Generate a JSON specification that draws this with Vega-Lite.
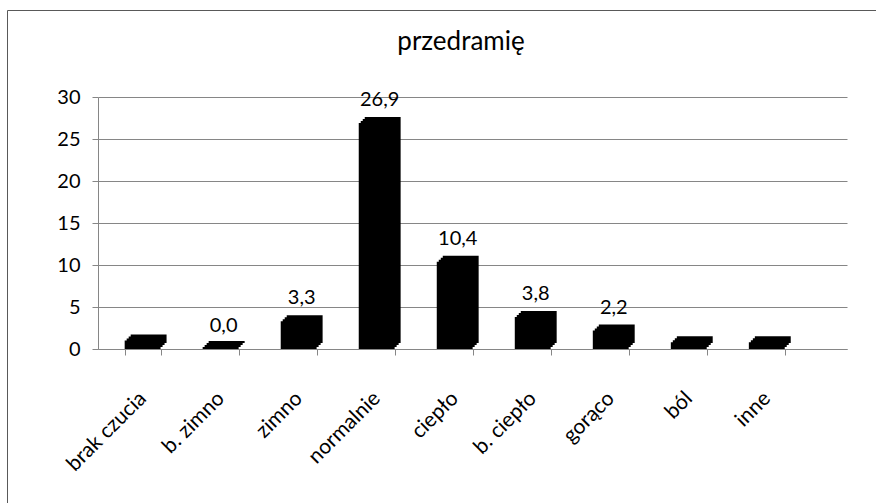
{
  "$schema": "https://vega.github.io/schema/vega-lite/v6.json",
  "autosize": "none",
  "padding": {"left": 7, "top": 10, "right": 0, "bottom": 0},
  "width": 872,
  "height": 495,
  "background": "white",
  "config": {
    "locale": {"number": {"decimal": ",", "thousands": " ", "grouping": [3], "currency": ["", " zł"]}},
    "view": {"stroke": "#595959", "strokeWidth": 1},
    "font": "Lato"
  },
  "title": {
    "text": "przedramię",
    "anchor": "middle",
    "frame": "group",
    "offset": -66,
    "baseline": "alphabetic",
    "dx": 18,
    "fontSize": 26,
    "font": "Lato",
    "fontWeight": "normal",
    "color": "black"
  },
  "data": {
    "values": [
      {"odczucie": "brak czucia", "procent": 1.0},
      {"odczucie": "b. zimno", "procent": 0.0},
      {"odczucie": "zimno", "procent": 3.3},
      {"odczucie": "normalnie", "procent": 26.9},
      {"odczucie": "ciepło", "procent": 10.4},
      {"odczucie": "b. ciepło", "procent": 3.8},
      {"odczucie": "gorąco", "procent": 2.2},
      {"odczucie": "ból", "procent": 0.8},
      {"odczucie": "inne", "procent": 0.8}
    ]
  },
  "encoding": {
    "x": {
      "field": "odczucie",
      "type": "nominal",
      "sort": null,
      "scale": {"range": [91, 840], "paddingInner": 0.54, "paddingOuter": 0.57, "align": 0.3},
      "axis": {
        "title": null,
        "orient": "bottom",
        "offset": -156,
        "domainColor": "#868686",
        "tickColor": "#868686",
        "tickSize": 6,
        "tickBand": "extent",
        "labelAngle": -45,
        "labelAlign": "right",
        "labelBaseline": "middle",
        "labelPadding": 40,
        "labelFontSize": 21,
        "labelFont": "Lato",
        "labelColor": "black",
        "labelOverlap": false,
        "grid": false
      }
    },
    "y": {
      "field": "procent",
      "type": "quantitative",
      "scale": {"domain": [0, 30], "range": [339, 87], "nice": false},
      "axis": {
        "title": null,
        "orient": "left",
        "offset": -91,
        "values": [0, 5, 10, 15, 20, 25, 30],
        "domainColor": "#868686",
        "tickColor": "#868686",
        "tickSize": 6,
        "labelPadding": 12,
        "labelFontSize": 20,
        "labelFont": "Lato",
        "labelColor": "black",
        "grid": true,
        "gridColor": "#868686",
        "gridWidth": 1
      }
    }
  },
  "layer": [
    {"mark": {"type": "bar", "color": "black", "xOffset": 6, "yOffset": -6}},
    {"mark": {"type": "bar", "color": "black", "xOffset": 4, "yOffset": -4}},
    {"mark": {"type": "bar", "color": "black", "xOffset": 2, "yOffset": -2}},
    {"mark": {"type": "bar", "color": "black"}},
    {
      "transform": [{"filter": "datum.procent == 0"}],
      "layer": [
        {"mark": {"type": "tick", "color": "black", "opacity": 1, "size": 36, "thickness": 2, "xOffset": 0, "yOffset": -1}},
        {"mark": {"type": "tick", "color": "black", "opacity": 1, "size": 36, "thickness": 2, "xOffset": 2, "yOffset": -3}},
        {"mark": {"type": "tick", "color": "black", "opacity": 1, "size": 36, "thickness": 2, "xOffset": 4, "yOffset": -5}},
        {"mark": {"type": "tick", "color": "black", "opacity": 1, "size": 36, "thickness": 2, "xOffset": 6, "yOffset": -7}}
      ]
    },
    {
      "transform": [
        {"filter": {"field": "odczucie", "oneOf": ["b. zimno", "zimno", "normalnie", "ciepło", "b. ciepło", "gorąco"]}}
      ],
      "mark": {"type": "text", "baseline": "alphabetic", "dy": -17, "xOffset": 3, "fontSize": 20, "font": "Lato", "color": "black"},
      "encoding": {
        "text": {"field": "procent", "type": "quantitative", "format": ".1f"}
      }
    }
  ]
}
